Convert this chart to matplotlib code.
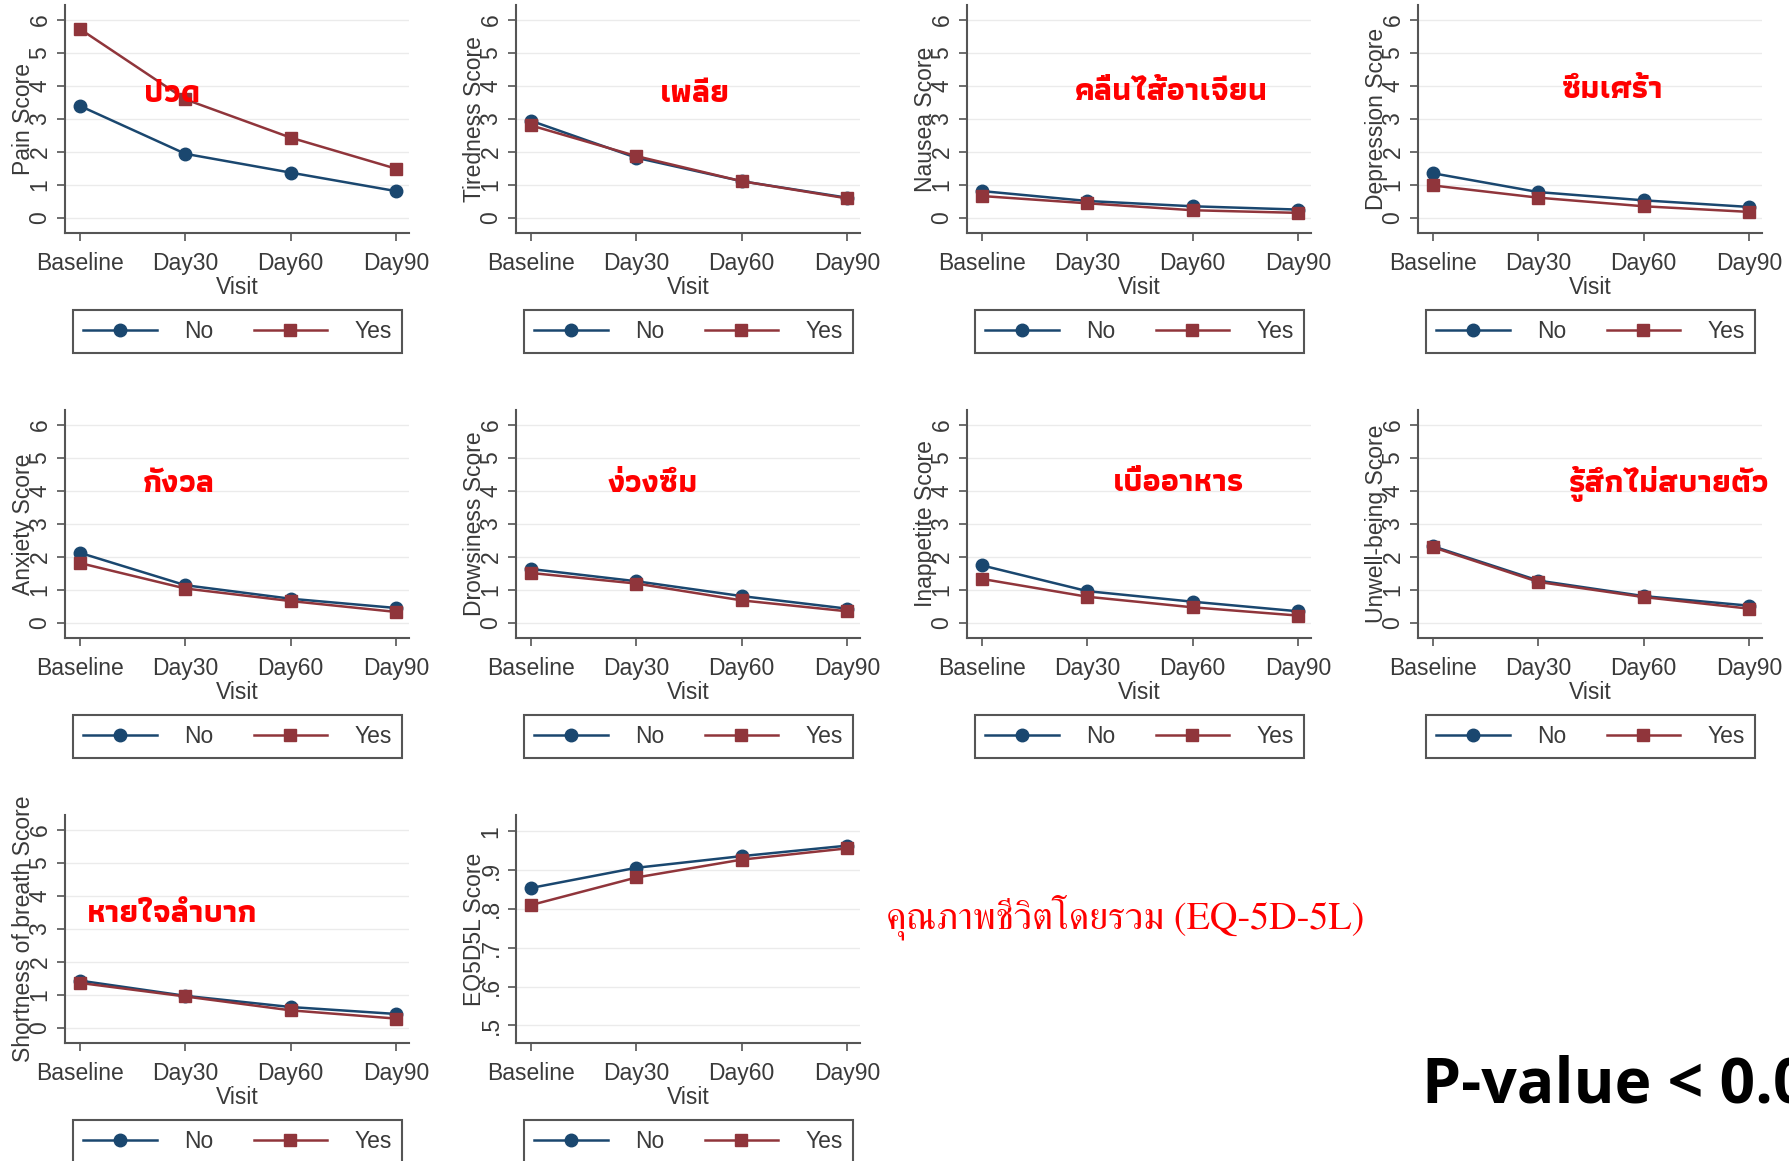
import numpy as np
import matplotlib
matplotlib.use("Agg")
import matplotlib.pyplot as plt
from matplotlib import font_manager
from matplotlib.ft2font import FT2Font

# =========================
# DATA
# =========================
visits = ["Baseline", "Day30", "Day60", "Day90"]
groups = ["No", "Yes"]

pain_no = [3.39, 1.94, 1.37, 0.81]
pain_yes = [5.72, 3.59, 2.43, 1.49]
tired_no = [2.94, 1.82, 1.11, 0.61]
tired_yes = [2.80, 1.87, 1.11, 0.59]
nausea_no = [0.81, 0.51, 0.35, 0.25]
nausea_yes = [0.66, 0.44, 0.23, 0.15]
depress_no = [1.35, 0.78, 0.53, 0.33]
depress_yes = [0.98, 0.61, 0.35, 0.18]
anxiety_no = [2.12, 1.14, 0.73, 0.45]
anxiety_yes = [1.81, 1.04, 0.66, 0.33]
drowsy_no = [1.63, 1.26, 0.81, 0.43]
drowsy_yes = [1.51, 1.19, 0.68, 0.35]
inappetite_no = [1.74, 0.96, 0.64, 0.35]
inappetite_yes = [1.33, 0.79, 0.47, 0.22]
unwell_no = [2.32, 1.28, 0.81, 0.52]
unwell_yes = [2.29, 1.24, 0.78, 0.43]
breath_no = [1.43, 0.97, 0.63, 0.42]
breath_yes = [1.36, 0.95, 0.53, 0.28]
eq5d_no = [0.854, 0.906, 0.936, 0.963]
eq5d_yes = [0.810, 0.881, 0.927, 0.956]

y_labels = ["Pain Score", "Tiredness Score", "Nausea Score", "Depression Score",
            "Anxiety Score", "Drowsiness Score", "Inappetite Score", "Unwell-being Score",
            "Shortness of breath Score", "EQ5D5L Score"]
series = [(pain_no, pain_yes), (tired_no, tired_yes), (nausea_no, nausea_yes),
          (depress_no, depress_yes), (anxiety_no, anxiety_yes), (drowsy_no, drowsy_yes),
          (inappetite_no, inappetite_yes), (unwell_no, unwell_yes),
          (breath_no, breath_yes), (eq5d_no, eq5d_yes)]

thai_titles = ["ปวด", "เพลีย", "คลื่นไส้อาเจียน", "ซึมเศร้า",
               "กังวล", "ง่วงซึม", "เบื่ออาหาร", "รู้สึกไม่สบายตัว",
               "หายใจลำบาก"]
eq_title = "คุณภาพชีวิตโดยรวม (EQ-5D-5L)"
pvalue_text = "P-value < 0.05"

score_ticks = [0, 1, 2, 3, 4, 5, 6]
eq_ticks = [0.5, 0.6, 0.7, 0.8, 0.9, 1.0]
eq_ticklabels = [".5", ".6", ".7", ".8", ".9", "1"]

# =========================
# STYLE
# =========================
W, H = 1789, 1161
NO_COLOR = "#1a476f"
YES_COLOR = "#90353b"
AXIS_COLOR = "#555555"
TEXT_COLOR = "#3a3a3a"
FS = 16.5

plt.rcParams["font.family"] = ["Liberation Sans", "DejaVu Sans"]


def thai_fonts():
    hits = []
    for f in font_manager.fontManager.ttflist:
        if "CJK" in f.fname:
            continue
        try:
            cmap = FT2Font(f.fname).get_charmap()
        except Exception:
            continue
        if 0x0E1B in cmap:
            hits.append(f)
    return hits


def is_bold(f):
    w = f.weight
    if isinstance(w, str):
        return "bold" in w.lower() or "heavy" in w.lower()
    return w >= 600


def pick(hits, bold, serif=False):
    if not hits:
        return None
    hits = sorted(hits, key=lambda f: (("serif" in f.name.lower()) != serif,
                                       is_bold(f) != bold, f.style != "normal", f.name))
    return hits[0].fname


hits = thai_fonts()
thai_bold = pick(hits, bold=True)
thai_serif = pick(hits, bold=False, serif=True)
thai_bold_fp = font_manager.FontProperties(fname=thai_bold) if thai_bold else \
    font_manager.FontProperties(family="DejaVu Sans", weight="bold")
thai_serif_fp = font_manager.FontProperties(fname=thai_serif) if thai_serif else \
    font_manager.FontProperties(family="DejaVu Sans")

fig = plt.figure(figsize=(W / 100, H / 100), dpi=100)
fig.patch.set_facecolor("white")

ax_w, ax_h = 344, 228
x = np.arange(len(visits))

for i, (ylab, (no_vals, yes_vals)) in enumerate(zip(y_labels, series)):
    col, row = i % 4, i // 4
    left = 65 + 451 * col
    bottom = 233 + 405 * row
    ax = fig.add_axes([left / W, 1 - bottom / H, ax_w / W, ax_h / H])

    l1, = ax.plot(x, no_vals, color=NO_COLOR, lw=1.8, marker="o", ms=9, zorder=3)
    l2, = ax.plot(x, yes_vals, color=YES_COLOR, lw=1.8, marker="s", ms=8.5, zorder=3)

    ax.set_xlim(-0.143, 3.124)
    ax.set_xticks(x)
    ax.set_xticklabels(visits)
    if ylab.startswith("EQ5D"):
        ax.set_ylim(0.4545, 1.042)
        ax.set_yticks(eq_ticks)
        ax.set_yticklabels(eq_ticklabels)
    else:
        ax.set_ylim(-0.46, 6.45)
        ax.set_yticks(score_ticks)

    ax.yaxis.grid(True, color="#ebebeb", lw=1)
    ax.set_axisbelow(True)
    for s in ["top", "right"]:
        ax.spines[s].set_visible(False)
    for s in ["left", "bottom"]:
        ax.spines[s].set_color(AXIS_COLOR)
        ax.spines[s].set_linewidth(1.5)

    ax.tick_params(axis="both", colors=AXIS_COLOR, labelcolor=TEXT_COLOR,
                   length=5.8, width=1.2, labelsize=FS)
    ax.tick_params(axis="x", pad=8)
    ax.tick_params(axis="y", pad=4, labelrotation=90)
    for t in ax.get_yticklabels():
        t.set_va("center")

    ax.set_xlabel("Visit", fontsize=FS, color=TEXT_COLOR, va="center")
    ax.xaxis.set_label_coords(0.5, -0.24)
    ax.set_ylabel(ylab, fontsize=FS, color=TEXT_COLOR, va="center")
    ax.yaxis.set_label_coords(-0.12, 0.5)

    leg = ax.legend([l1, l2], groups, ncol=2, loc="center", mode="expand",
                    bbox_to_anchor=(0.023, -0.482, 0.957, 0.1), fontsize=FS,
                    handlelength=3.2, handletextpad=1.2, borderpad=0.45,
                    numpoints=1, fancybox=False, framealpha=1, borderaxespad=0)
    leg.get_frame().set_edgecolor(AXIS_COLOR)
    leg.get_frame().set_linewidth(1.5)
    for t in leg.get_texts():
        t.set_color(TEXT_COLOR)

# Thai annotations
title_pos = [(0.0961, 0.9121), (0.3885, 0.9121), (0.6546, 0.9139), (0.9016, 0.9156),
             (0.1001, 0.5762), (0.3650, 0.5762), (0.6590, 0.5771), (0.9329, 0.5762),
             (0.0961, 0.2059)]
for txt, (fx, fy) in zip(thai_titles, title_pos):
    fig.text(fx, fy, txt, color="#ff0000", fontproperties=thai_bold_fp, fontsize=23,
             ha="center", va="baseline")

fig.text(0.6288, 0.2000, eq_title, color="#ff0000", fontproperties=thai_serif_fp,
         fontsize=27.5, ha="center", va="baseline")

fig.text(0.7949, 0.050, pvalue_text, color="black", family="Open Sans",
         weight="bold", fontsize=45, ha="left", va="baseline")

fig.savefig("out.png", dpi=100, facecolor="white")
